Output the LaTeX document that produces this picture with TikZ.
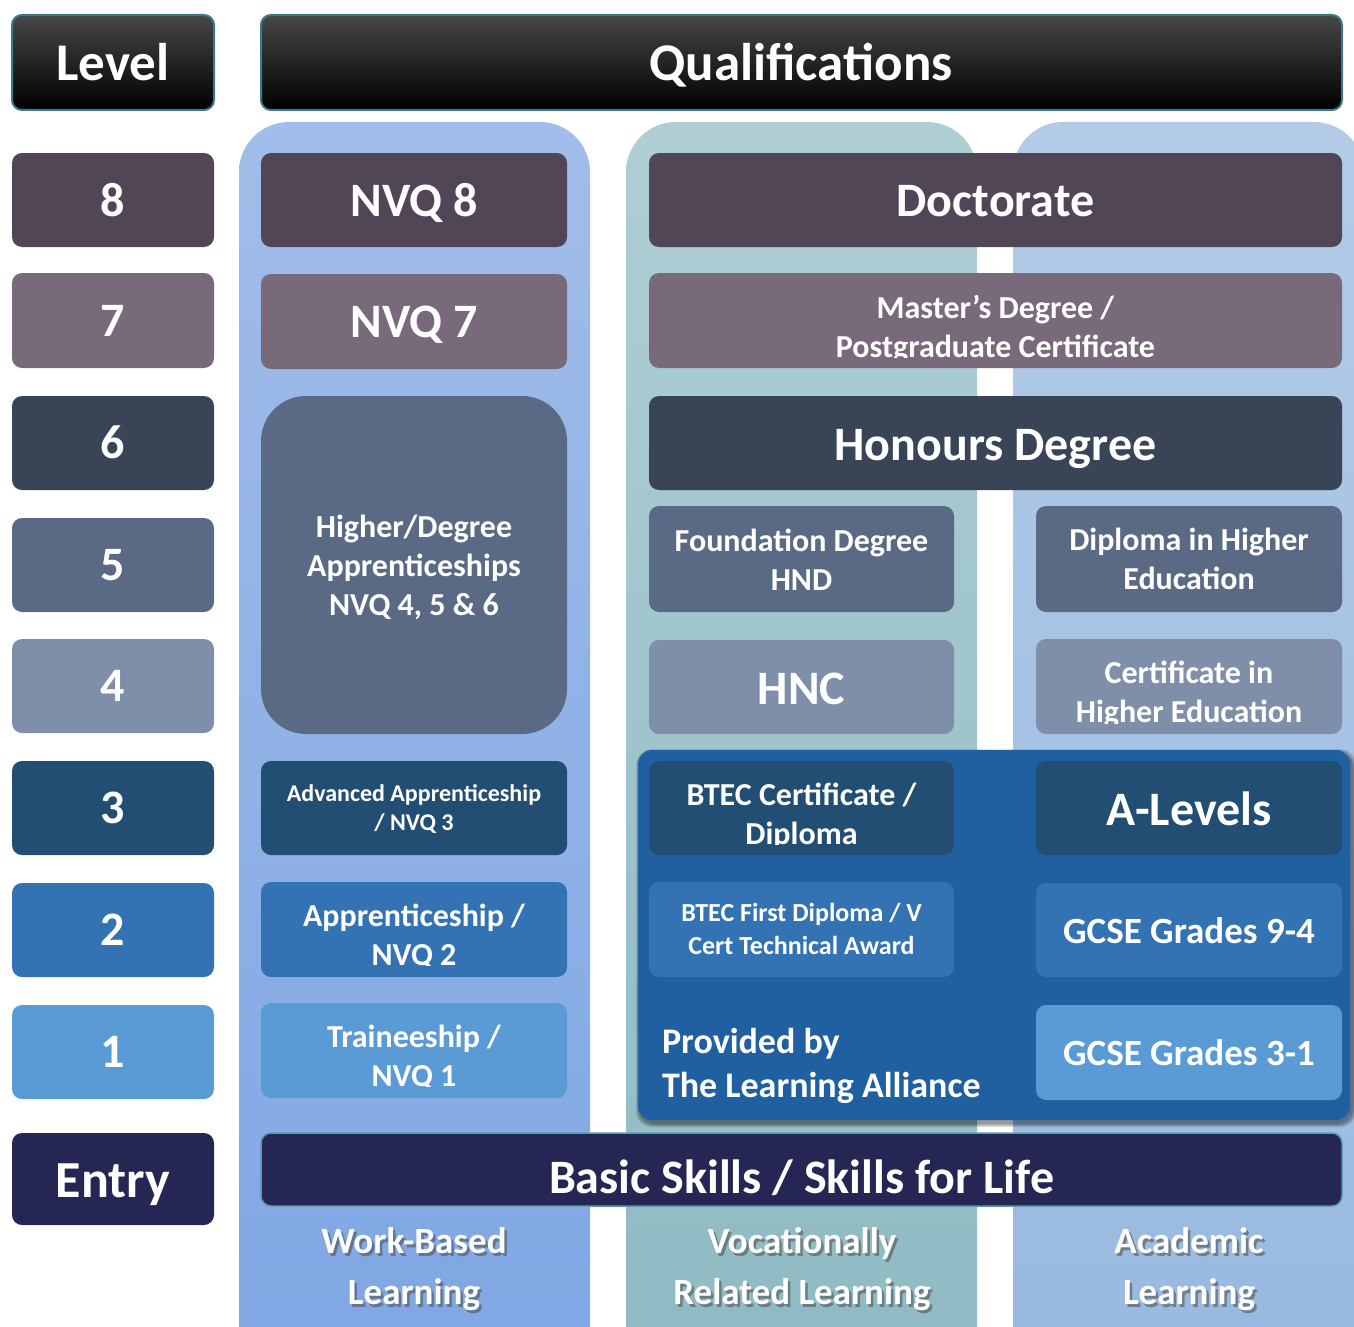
\documentclass[tikz,border=0pt]{standalone}
\usepackage{fontspec}
\setmainfont{Carlito}
\definecolor{cEight}{HTML}{514655}
\definecolor{cSeven}{HTML}{786A7B}
\definecolor{cSix}{HTML}{394457}
\definecolor{cFive}{HTML}{5A6A85}
\definecolor{cFour}{HTML}{7F8FAA}
\definecolor{cThree}{HTML}{234E74}
\definecolor{cTwo}{HTML}{3373B3}
\definecolor{cOne}{HTML}{5B9BD5}
\definecolor{cEntry}{HTML}{252653}
\definecolor{cBlue}{HTML}{2060A0}
\definecolor{cTeal}{HTML}{3E7A85}
\definecolor{cTealLight}{HTML}{5A9DA8}
\definecolor{wbTop}{HTML}{A1BDE9}
\definecolor{wbBot}{HTML}{7FA6E4}
\definecolor{voTop}{HTML}{AFCED4}
\definecolor{voBot}{HTML}{8EBAC3}
\definecolor{acTop}{HTML}{B3CBE7}
\definecolor{acBot}{HTML}{98B9E0}
\definecolor{hdTop}{HTML}{474747}
% box by corners: [opts]{name}{x1}{y1}{x2}{y2}{colour}
\newcommand\qbox[7][]{%
  \pgfmathsetmacro\qcx{(#3+#5)/2}\pgfmathsetmacro\qcy{(#4+#6)/2}%
  \pgfmathsetmacro\qw{#5-#3}\pgfmathsetmacro\qh{#6-#4}%
  \node[box,fill=#7,minimum width=\qw pt,minimum height=\qh pt,#1] (#2) at (\qcx,\qcy) {};}
\begin{document}
\begin{tikzpicture}[x=1pt,y=-1pt,
  box/.style={rectangle, rounded corners=10pt, inner sep=0pt, outer sep=0pt, draw=none},
  colbg/.style={rectangle, rounded corners=50pt, inner sep=0pt, outer sep=0pt, draw=none, minimum width=351pt, minimum height=1260pt},
  header/.style={box, top color=hdTop, bottom color=black, draw=cTeal, line width=2pt},
  softshadow/.style={rectangle, rounded corners=16pt, inner sep=0pt, outer sep=0pt, draw=none, fill=black, opacity=0.12},
  t/.style={text=white, inner sep=0pt, outer sep=0pt, font=\fontsize{#1}{#1}\selectfont\bfseries, text height={0.63*#1}, text depth=0pt},
  shade/.style={text=black!70, opacity=0.55, inner sep=0pt, outer sep=0pt, font=\fontsize{#1}{#1}\selectfont\bfseries, text height={0.63*#1}, text depth=0pt},
]
\useasboundingbox (0,0) rectangle (1354,1327);
\clip (0,0) rectangle (1354,1327);
% column backgrounds
\node[colbg, top color=wbTop, bottom color=wbBot] (colwb) at (414.5,752) {};
\node[colbg, top color=voTop, bottom color=voBot] (colvo) at (801.5,752) {};
\node[colbg, top color=acTop, bottom color=acBot] (colac) at (1188.5,752) {};
% headers
\qbox[header]{hlevel}{12}{15}{214}{110}{black}
\qbox[header]{hqual}{261}{15}{1342}{110}{black}
% level column
\qbox{l8}{12}{153}{214}{247}{cEight}
\qbox{l7}{12}{273}{214}{368}{cSeven}
\qbox{l6}{12}{396}{214}{490}{cSix}
\qbox{l5}{12}{518}{214}{612}{cFive}
\qbox{l4}{12}{639}{214}{733}{cFour}
\qbox{l3}{12}{761}{214}{855}{cThree}
\qbox{l2}{12}{883}{214}{977}{cTwo}
\qbox{l1}{12}{1005}{214}{1099}{cOne}
\qbox{lE}{12}{1133}{214}{1225}{cEntry}
% work-based column
\qbox{nvq8}{261}{153}{567}{247}{cEight}
\qbox{nvq7}{261}{274}{567}{369}{cSeven}
\qbox[rounded corners=45pt]{hda}{261}{396}{567}{734}{cFive}
\qbox{adv}{261}{761}{567}{855}{cThree}
\qbox{app}{261}{882}{567}{977}{cTwo}
\qbox{trn}{261}{1003}{567}{1098}{cOne}
% vocational / academic
\qbox{doc}{649}{153}{1342}{247}{cEight}
\qbox{mas}{649}{273}{1342}{368}{cSeven}
\qbox{hon}{649}{396}{1342}{490}{cSix}
\qbox{fdh}{649}{506}{954}{612}{cFive}
\qbox{dhe}{1036}{506}{1342}{612}{cFive}
\qbox{hnc}{649}{640}{954}{734}{cFour}
\qbox{che}{1036}{639}{1342}{734}{cFour}
% learning alliance block with soft shadow
\foreach \k/\ex in {1/8,2/6,3/4,4/2}{
  \node[softshadow, minimum width={712+\ex}, minimum height={370+\ex}] (sh\k) at (996,938) {};
}
\qbox[rounded corners=14pt]{tla}{638}{750}{1350}{1120}{cBlue}
\qbox{btc}{649}{761}{954}{855}{cThree}
\qbox{alv}{1036}{761}{1342}{855}{cThree}
\qbox{btf}{649}{882}{954}{977}{cTwo}
\qbox{g94}{1036}{883}{1342}{977}{cTwo}
\qbox{g31}{1036}{1005}{1342}{1100}{cOne}
% basic skills
\qbox[draw=cTealLight, line width=1.5pt]{bsk}{261}{1133}{1342}{1206}{cEntry}
% ---- texts ----
\node[t=53] (tlevel) at (113,64) {Level};
\node[t=53] (tqual) at (801,64) {Qualifications};
\node[t=48] (t8) at (113,201) {8};
\node[t=48] (t7) at (113,321) {7};
\node[t=48] (t6) at (113,443) {6};
\node[t=48] (t5) at (113,565) {5};
\node[t=48] (t4) at (113,686) {4};
\node[t=48] (t3) at (113,808) {3};
\node[t=48] (t2) at (113,930) {2};
\node[t=48] (t1) at (113,1052) {1};
\node[t=52] (tE) at (113,1181) {Entry};
\node[t=48] (tnvq8) at (414,201) {NVQ 8};
\node[t=48] (tnvq7) at (414,322) {NVQ 7};
\node[t=32] (thda1) at (414,527) {Higher/Degree};
\node[t=32] (thda2) at (414,566) {Apprenticeships};
\node[t=32] (thda3) at (414,605) {NVQ 4, 5 \& 6};
\node[t=24] (tadv1) at (414,794) {Advanced Apprenticeship};
\node[t=24] (tadv2) at (414,823) {/ NVQ 3};
\begin{scope}
\clip (261,882) rectangle (567,965);
\node[t=32] (tapp1) at (414,916) {Apprenticeship /};
\node[t=32] (tapp2) at (414,955) {NVQ 2};
\end{scope}
\begin{scope}
\clip (261,1003) rectangle (567,1086);
\node[t=32] (ttrn1) at (414,1037) {Traineeship /};
\node[t=32] (ttrn2) at (414,1076) {NVQ 1};
\end{scope}
\node[t=48] (tdoc) at (995.5,201) {Doctorate};
\begin{scope}
\clip (649,273) rectangle (1342,357);
\node[t=32] (tmas1) at (995.5,308) {Master’s Degree /};
\node[t=32] (tmas2) at (995.5,347) {Postgraduate Certificate};
\end{scope}
\node[t=48] (thon) at (995.5,445) {Honours Degree};
\node[t=32] (tfdh1) at (801.5,541) {Foundation Degree};
\node[t=32] (tfdh2) at (801.5,580) {HND};
\node[t=32] (tdhe1) at (1189,540) {Diploma in Higher};
\node[t=32] (tdhe2) at (1189,579) {Education};
\node[t=48] (thnc) at (801.5,689) {HNC};
\begin{scope}
\clip (1036,639) rectangle (1342,723);
\node[t=32] (tche1) at (1189,673) {Certificate in};
\node[t=32] (tche2) at (1189,712) {Higher Education};
\end{scope}
\begin{scope}
\clip (649,761) rectangle (954,844);
\node[t=32] (tbtc1) at (801.5,795) {BTEC Certificate /};
\node[t=32] (tbtc2) at (801.5,834) {Diploma};
\end{scope}
\node[t=48] (talv) at (1189,810) {A-Levels};
\node[t=26] (tbtf1) at (801.5,913) {BTEC First Diploma / V};
\node[t=26] (tbtf2) at (801.5,946) {Cert Technical Award};
\node[t=37] (tg94) at (1189,932) {GCSE Grades 9-4};
\node[t=37] (tg31) at (1189,1054) {GCSE Grades 3-1};
\node[t=36, anchor=west] (ttla1) at (662,1042) {Provided by};
\node[t=36, anchor=west] (ttla2) at (662,1086) {The Learning Alliance};
\node[t=48] (tbsk) at (801.5,1178) {Basic Skills / Skills for Life};
% bottom labels with shadow
\foreach \nm/\cx/\la/\lb in {wb/414/Work-Based/Learning, vo/802/Vocationally/Related Learning, ac/1189/Academic/Learning}{
  \node[shade=37] (s\nm1) at (\cx+2.5,1244.5) {\la};
  \node[shade=37] (s\nm2) at (\cx+2.5,1295.5) {\lb};
  \node[t=37] (b\nm1) at (\cx,1242) {\la};
  \node[t=37] (b\nm2) at (\cx,1293) {\lb};
}
\end{tikzpicture}
\end{document}
